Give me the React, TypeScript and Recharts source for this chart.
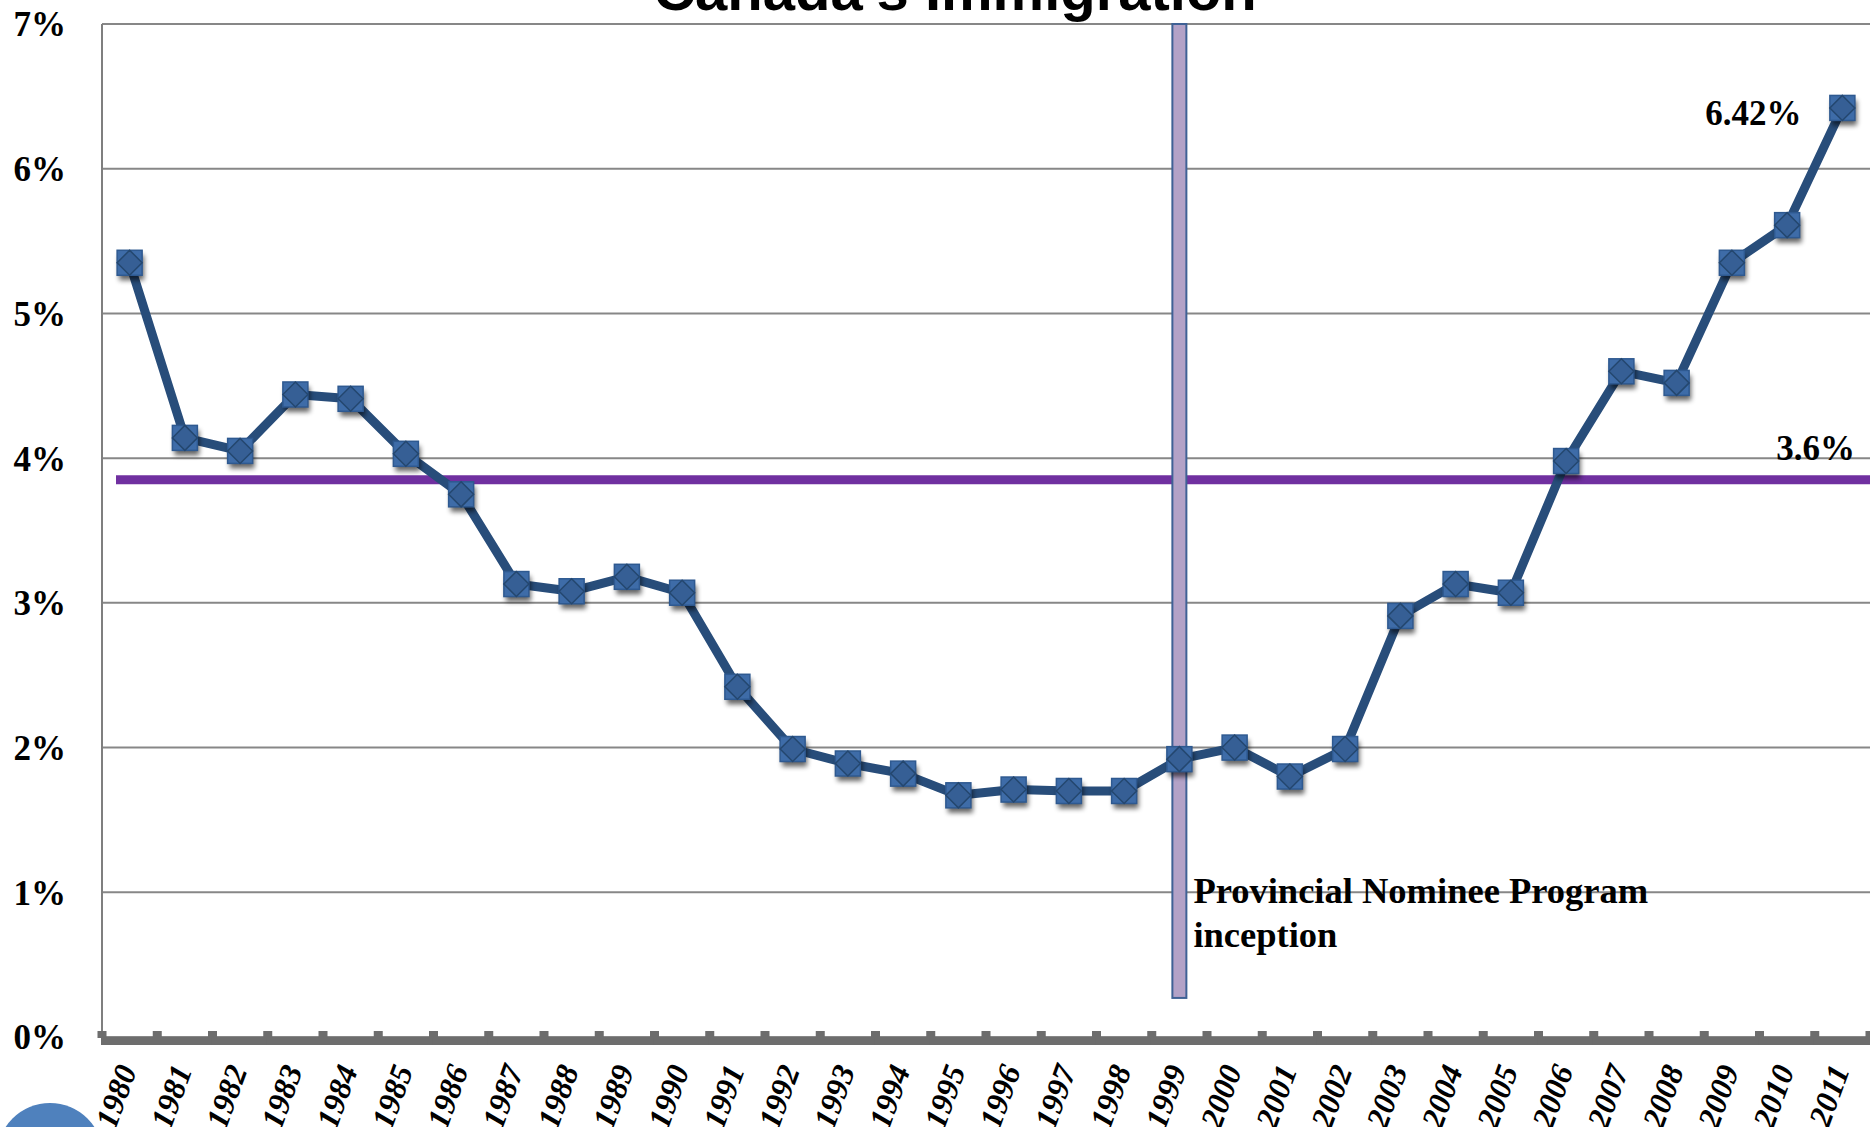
import { LineChart, Line, XAxis, YAxis, CartesianGrid, ReferenceLine, LabelList, Customized } from 'recharts';

const years = [
  '1980', '1981', '1982', '1983', '1984', '1985', '1986', '1987', '1988', '1989', '1990',
  '1991', '1992', '1993', '1994', '1995', '1996', '1997', '1998', '1999', '2000',
  '2001', '2002', '2003', '2004', '2005', '2006', '2007', '2008', '2009', '2010', '2011',
];
const shares = [
  5.35, 4.14, 4.05, 4.44, 4.41, 4.03, 3.75, 3.13, 3.08, 3.18, 3.07,
  2.42, 1.99, 1.89, 1.82, 1.67, 1.71, 1.70, 1.70, 1.92, 2.00,
  1.80, 1.99, 2.91, 3.13, 3.07, 3.98, 4.60, 4.52, 5.35, 5.61, 6.42,
];
const yTicks = [0, 1, 2, 3, 4, 5, 6, 7];
const averageShare = 3.85;
const averageLabel = '3.6%';
const lastLabel = '6.42%';
const programYear = '1999';
const programBarBottom = 0.27;
const programNote = ['Provincial Nominee Program', 'inception'];
const title = "Canada's Immigration";

const data = years.map((year, i) => ({ year, share: shares[i] }));

const serif = '"Liberation Serif", "Times New Roman", serif';

const Marker = (props: any) => {
  const { cx, cy } = props;
  if (cx == null || cy == null) return null;
  const s = 12.5;
  return (
    <g>
      <rect x={cx - s + 2} y={cy - s + 5} width={2 * s} height={2 * s} fill="#000" opacity={0.6} filter="url(#mkShadow)" />
      <rect x={cx - s} y={cy - s} width={2 * s} height={2 * s} fill="#3e6ca8" stroke="#2e5990" strokeWidth={1.5} />
      <polygon
        points={`${cx},${cy - s} ${cx + s},${cy} ${cx},${cy + s} ${cx - s},${cy}`}
        fill="#365f95"
        stroke="#24476f"
        strokeWidth={1.5}
      />
    </g>
  );
};

const YearTick = (props: any) => {
  const { x, y, payload, index } = props;
  const bw = props.width ? props.width / years.length : 55.25;
  const half = bw / 2;
  const gray = '#6d6d6d';
  return (
    <g>
      <rect x={x - half - 1} y={y} width={bw + 2} height={8} fill={gray} />
      <rect x={x - half - 4.5} y={y - 6} width={9} height={7} fill={gray} />
      {index === years.length - 1 && <rect x={x + half - 4.5} y={y - 6} width={9} height={7} fill={gray} />}
      <text
        x={x + 7.5}
        y={y + 33}
        transform={`rotate(-70, ${x + 7.5}, ${y + 33})`}
        textAnchor="end"
        fontFamily={serif}
        fontWeight="bold"
        fontStyle="italic"
        fontSize={32}
        fill="#000"
      >
        {payload.value}
      </text>
    </g>
  );
};

const ProgramBar = (p: any) => {
  const top = Math.min(p.y1, p.y2);
  const bottom = Math.max(p.y1, p.y2);
  return (
    <g>
      <rect x={p.x1 - 7} y={top} width={14} height={bottom - top} fill="#b3a2c7" stroke="#3f6195" strokeWidth={2} />
      {programNote.map((t, i) => (
        <text key={t} x={p.x1 + 14} y={bottom - 95 + i * 44} fontFamily={serif} fontWeight="bold" fontSize={36.5} fill="#000">
          {t}
        </text>
      ))}
    </g>
  );
};

const AverageLine = (p: any) => (
  <g>
    <line x1={p.x1 + 14} y1={p.y1} x2={p.x2} y2={p.y2} stroke="#7030a0" strokeWidth={9} />
    <text x={p.x2 - 15} y={p.y1 - 20} textAnchor="end" fontFamily={serif} fontWeight="bold" fontSize={35} fill="#000">
      {averageLabel}
    </text>
  </g>
);

const LastLabel = (props: any) => {
  const { x, y, index } = props;
  if (index !== years.length - 1) return null;
  return (
    <text x={x - 41} y={y + 17} textAnchor="end" fontFamily={serif} fontWeight="bold" fontSize={35} fill="#000">
      {lastLabel}
    </text>
  );
};

const Decor = (props: any) => {
  const off = props.offset || { left: 102, width: 1768 };
  return (
    <g>
      <defs>
        <filter id="mkShadow" x="-50%" y="-50%" width="200%" height="200%">
          <feGaussianBlur stdDeviation="2.5" />
        </filter>
      </defs>
      <text
        x={off.left + off.width / 2 - 31}
        y={10}
        textAnchor="middle"
        fontFamily='"Liberation Sans", Arial, sans-serif'
        fontWeight="bold"
        fontSize={58}
        fill="#000"
      >
        {title}
      </text>
      <circle cx={50} cy={1156} r={53} fill="#4f81bd" />
    </g>
  );
};

export default function App() {
  return (
    <div style={{ position: 'absolute', left: 0, top: 0, width: 1870, height: 1127, background: '#fff' }}>
      <LineChart width={1870} height={1127} data={data} margin={{ top: 24, right: 0, bottom: 0, left: 0 }}>
        <CartesianGrid horizontal vertical={false} stroke="#878787" strokeWidth={2} />
        <XAxis
          dataKey="year"
          scale="band"
          height={90}
          axisLine={false}
          tickLine={false}
          tickSize={0}
          tickMargin={0}
          interval={0}
          tick={<YearTick />}
        />
        <YAxis
          domain={[0, 7]}
          ticks={yTicks}
          width={102}
          axisLine={{ stroke: '#7f7f7f', strokeWidth: 2 }}
          tickLine={false}
          tickSize={0}
          tickMargin={36}
          tickFormatter={(v: number) => `${v}%`}
          tick={{ fontFamily: serif, fontWeight: 'bold', fontSize: 35, fill: '#000' }}
        />
        <ReferenceLine y={averageShare} shape={AverageLine} />
        <Line
          dataKey="share"
          stroke="#284d7a"
          strokeWidth={9}
          strokeLinejoin="round"
          dot={<Marker />}
          activeDot={false}
          isAnimationActive={false}
        >
          <LabelList dataKey="share" content={<LastLabel />} />
        </Line>
        <ReferenceLine
          segment={[
            { x: programYear, y: programBarBottom },
            { x: programYear, y: 7 },
          ]}
          shape={ProgramBar}
        />
        <Customized component={Decor} />
      </LineChart>
    </div>
  );
}
